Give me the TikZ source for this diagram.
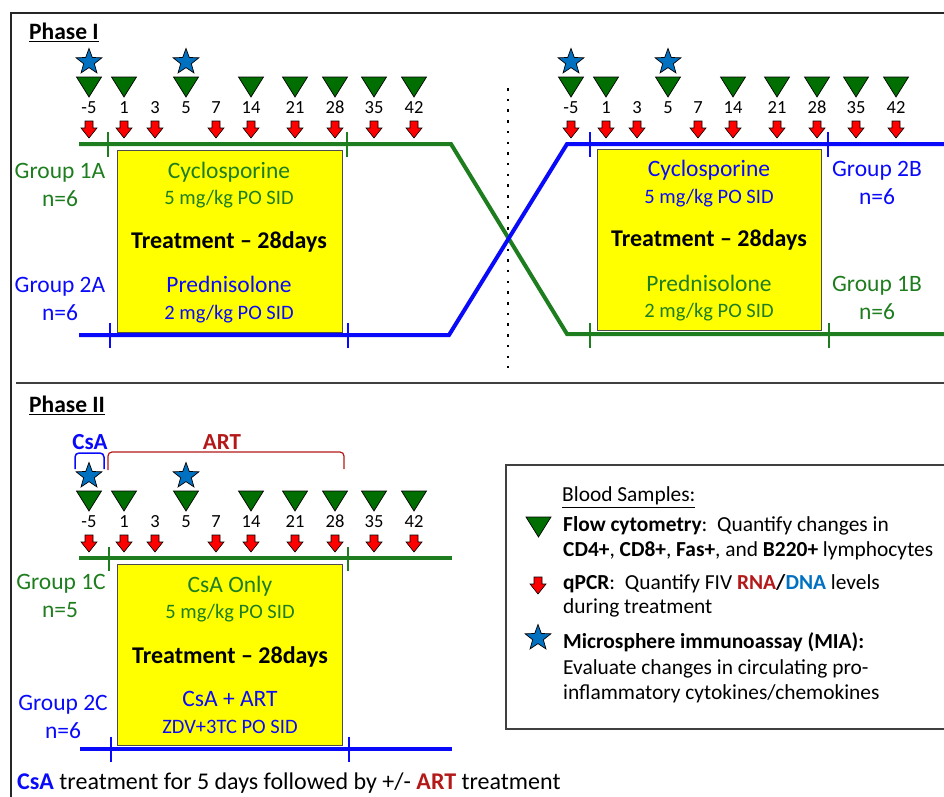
\documentclass[tikz,border=0pt]{standalone}
\usepackage{fontspec}
\setmainfont{Carlito}
\usetikzlibrary{shapes.geometric}
\definecolor{gA}{RGB}{30,125,30}
\definecolor{bA}{RGB}{10,10,250}
\definecolor{triG}{RGB}{0,110,0}
\definecolor{starB}{RGB}{0,112,192}
\definecolor{artR}{RGB}{180,25,25}
\definecolor{ylw}{RGB}{255,255,0}
\newcommand{\fs}[1]{\fontsize{#1}{#1}\selectfont}
\newcommand{\tline}[2]{%
  \foreach \dd/\oo/\hasT/\hasA in {-5/0/1/1, 1/35/1/1, 3/66/0/1, 5/97/1/0, 7/127/0/1, 14/162/1/1, 21/206/1/1, 28/246/1/1, 35/285/1/1, 42/325/1/1} {
    \node[lbl=18.5] at (#1+\oo, #2+31) {\dd};
    \ifnum\hasT=1 \pic at (#1+\oo,#2) {tri}; \fi
    \ifnum\hasA=1 \pic at (#1+\oo,#2+44) {rarr}; \fi
  }
  \node[mstar] at (#1, #2-15) {};
  \node[mstar] at (#1+97, #2-15) {};
}
\begin{document}
\begin{tikzpicture}[x=1pt,y=-1pt,
  lbl/.style={inner sep=0pt, text height=0.64*#1 pt, text depth=0pt, font=\fs{#1}},
  grp/.style={line width=4pt},
  tickm/.style={line width=2.5pt},
  tbox/.style={fill=ylw, draw=black!70, line width=1pt, inner sep=0pt},
  big/.style={lbl=23.5},
  small/.style={lbl=20.5},
  bold/.style={lbl=24, font=\fs{24}\bfseries},
  leg/.style={lbl=21.4, anchor=west},
  mstar/.style={star, star points=5, star point ratio=2.4, minimum size=27pt, inner sep=0pt, fill=starB, draw=black, line width=0.7pt},
  tri/.pic={\filldraw[fill=triG, draw=black, line width=0.7pt] (-12.5,0) -- (12.5,0) -- (0,20) -- cycle;},
  rarr/.pic={\filldraw[fill=red, draw=black, line width=0.6pt] (-4,0) -- (4,0) -- (4,7) -- (8,7) -- (0,17) -- (-8,7) -- (-4,7) -- cycle;}
]
\useasboundingbox (0,0) rectangle (944,796);
% frame and divider
\draw[line width=2pt, black!85] (11,805) -- (11,13) -- (955,13);
\draw[line width=1.8pt, black!75] (16,383) -- (955,383);
% ---------------- Phase I ----------------
\node[lbl=23.5, anchor=west, font=\fs{23.5}\bfseries] (p1) at (29,32) {\underline{Phase I}};
\draw[dotted, line width=2.5pt, dash pattern=on 2.5pt off 8.2pt] (508,88) -- (508,368);
% boxes
\node[tbox, minimum width=225pt, minimum height=182pt, anchor=north west] (box1) at (117,150) {};
\node[tbox, minimum width=224pt, minimum height=181pt, anchor=north west] (box2) at (597,149) {};
% group lines
\coordinate (g1s) at (79,144); \coordinate (g1k) at (451,144); \coordinate (g1m) at (567,334); \coordinate (g1e) at (955,334);
\coordinate (g2s) at (79,335); \coordinate (g2k) at (449,335); \coordinate (g2m) at (567,144); \coordinate (g2e) at (955,144);
\draw[grp, gA] (g1s) -- (g1k) -- (g1m) -- (g1e);
\draw[grp, bA] (g2s) -- (g2k) -- (g2m) -- (g2e);
\draw[tickm, gA] (108,132) -- (108,157) (347,132) -- (347,157) (590,323) -- (590,348) (829,323) -- (829,348);
\draw[tickm, bA] (110,323) -- (110,348) (348,323) -- (348,348) (590,132) -- (590,157) (828,132) -- (828,157);
\tline{89}{77}
\tline{571}{77}
% labels left
\node[big, gA] (g1a) at (60,171) {Group 1A};
\node[big, gA] (g1an) at (60,199) {n=6};
\node[big, bA] (g2a) at (60,285) {Group 2A};
\node[big, bA] (g2an) at (60,313) {n=6};
\node[big, gA] at (229,171) {Cyclosporine};
\node[small, gA] at (229,198) {5 mg/kg PO SID};
\node[bold] at (229,241) {Treatment – 28days};
\node[big, bA] at (229,285) {Prednisolone};
\node[small, bA] at (229,313) {2 mg/kg PO SID};
% labels right
\node[big, bA] (g2b) at (877,169) {Group 2B};
\node[big, bA] (g2bn) at (877,197) {n=6};
\node[big, gA] (g1b) at (877,284) {Group 1B};
\node[big, gA] (g1bn) at (877,312) {n=6};
\node[big, bA] at (709,169) {Cyclosporine};
\node[small, bA] at (709,197) {5 mg/kg PO SID};
\node[bold] at (709,239) {Treatment – 28days};
\node[big, gA] at (709,284) {Prednisolone};
\node[small, gA] at (709,311) {2 mg/kg PO SID};
% ---------------- Phase II ----------------
\node[lbl=23.5, anchor=west, font=\fs{23.5}\bfseries] (p2) at (29,405) {\underline{Phase II}};
\node[lbl=23, bA, font=\fs{23}\bfseries] (csa) at (90,442) {CsA};
\node[lbl=23, artR, font=\fs{23}\bfseries] (art) at (222,442) {ART};
\draw[bA, line width=1.5pt, rounded corners=4pt] (75,469) -- (75,453) -- (104,453) -- (104,469);
\draw[artR, line width=1.2pt, rounded corners=4pt] (108,470) -- (108,452) -- (344,452) -- (344,469);
\node[tbox, minimum width=225pt, minimum height=181pt, anchor=north west] (box3) at (117,564) {};
\coordinate (g3s) at (79,558); \coordinate (g3e) at (452,558);
\coordinate (g4s) at (80,749); \coordinate (g4e) at (452,749);
\draw[grp, gA] (g3s) -- (g3e);
\draw[grp, bA] (g4s) -- (g4e);
\draw[tickm, gA] (109,547) -- (109,571) (348,547) -- (348,571);
\draw[tickm, bA] (111,737) -- (111,762) (349,737) -- (349,762);
\tline{89}{491}
\node[big, gA] (g1c) at (61,582) {Group 1C};
\node[big, gA] (g1cn) at (60,610) {n=5};
\node[big, bA] (g2c) at (63,703) {Group 2C};
\node[big, bA] (g2cn) at (63,731) {n=6};
\node[big, gA] at (230,585) {CsA Only};
\node[small, gA] at (230,612) {5 mg/kg PO SID};
\node[bold] at (230,656) {Treatment – 28days};
\node[big, bA] at (230,699) {CsA + ART};
\node[small, bA] at (230,727) {ZDV+3TC PO SID};
\node[lbl=24, anchor=west] (foot) at (17,782) {{\color{bA}\bfseries CsA} treatment for 5 days followed by +/- {\color{artR}\bfseries ART} treatment};
% ---------------- Legend ----------------
\draw[black!75, line width=1.3pt] (960,465) -- (506,465) -- (506,729) -- (960,729);
\node[leg] (lt) at (562,495) {\underline{Blood Samples:}};
\pic at (538.5,517) {tri};
\pic at (538,577) {rarr};
\node[mstar] (ls) at (538,638) {};
\node[leg] at (563,525) {\textbf{Flow cytometry}:\ \ Quantify changes in};
\node[leg] at (563,550) {\textbf{CD4+}, \textbf{CD8+}, \textbf{Fas+}, and \textbf{B220+} lymphocytes};
\node[leg] at (563,583) {\textbf{qPCR}:\ \ Quantify FIV {\bfseries\color{artR}RNA}\textbf{/}{\bfseries\color{starB}DNA} levels};
\node[leg] at (563,607) {during treatment};
\node[leg] at (563,642) {\textbf{Microsphere immunoassay (MIA):}};
\node[leg] at (563,668) {Evaluate changes in circulating pro-};
\node[leg] at (563,693) {inflammatory cytokines/chemokines};
\end{tikzpicture}
\end{document}
